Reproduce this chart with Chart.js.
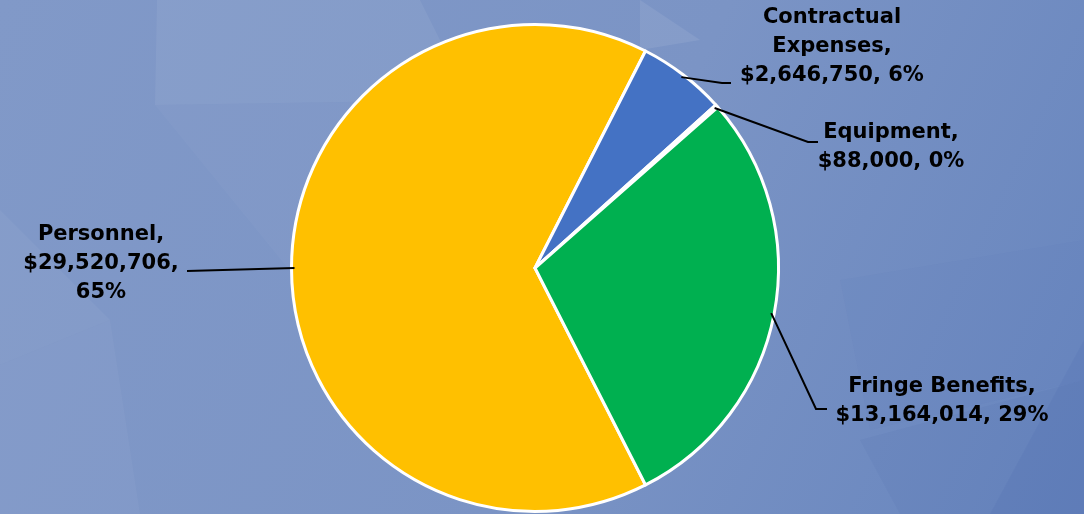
<!DOCTYPE html>
<html>
<head>
<meta charset="utf-8">
<script src="https://cdn.jsdelivr.net/npm/chart.js@4.4.1/dist/chart.umd.min.js"></script>
<style>
    html, body { margin: 0; padding: 0; width: 1084px; height: 514px; overflow: hidden; }
    #wrap { position: relative; width: 1084px; height: 514px; }
</style>
</head>
<body>
<div id="wrap"><canvas id="budgetPie" width="1084" height="514"></canvas></div>
<script>
// --- data ---
var categories = ['Personnel', 'Contractual Expenses', 'Equipment', 'Fringe Benefits'];
var amounts = [29520706, 2646750, 88000, 13164014];
var sliceColors = ['#FFC000', '#4472C4', '#A5A5A5', '#00B050'];

// label text lines per slice (as Excel wrapped them)
var labelLines = [
    ['Personnel,', '$29,520,706,', '65%'],
    ['Contractual', 'Expenses,', '$2,646,750, 6%'],
    ['Equipment,', '$88,000, 0%'],
    ['Fringe Benefits,', '$13,164,014, 29%']
];

// label placement: text centre x, first line y, elbow point of leader
var labelLayout = [
    { x: 101, y: 235, elbow: [187, 271], end: [187, 271] },
    { x: 832, y: 18,  elbow: [722, 83],  end: [731, 83] },
    { x: 891, y: 133, elbow: [808, 142], end: [818, 142] },
    { x: 942, y: 387, elbow: [816, 409], end: [827, 409] }
];

// decorative low-poly background shapes [points..., colour]
var bgPolys = [
    [[157, 0], [420, 0], [470, 100], [155, 105], 'rgba(255,255,255,0.06)'],
    [[155, 105], [470, 100], [330, 320], 'rgba(255,255,255,0.025)'],
    [[0, 210], [110, 320], [0, 365], 'rgba(255,255,255,0.04)'],
    [[0, 365], [110, 320], [140, 514], [0, 514], 'rgba(255,255,255,0.035)'],
    [[640, 0], [700, 40], [640, 50], 'rgba(255,255,255,0.08)'],
    [[840, 280], [1084, 240], [1084, 380], [870, 430], 'rgba(60,90,160,0.035)'],
    [[860, 440], [1084, 380], [1084, 514], [900, 514], 'rgba(50,80,160,0.07)'],
    [[990, 514], [1084, 340], [1084, 514], 'rgba(40,70,150,0.07)']
];

var total = amounts.reduce(function(a, b) { return a + b; }, 0);

var backgroundPlugin = {
    id: 'bgPoly',
    beforeDraw: function(chart) {
        var ctx = chart.ctx, w = chart.width, h = chart.height;
        ctx.save();
        var g = ctx.createLinearGradient(0, 0, w, h);
        g.addColorStop(0, '#8199c8');
        g.addColorStop(0.55, '#7b94c5');
        g.addColorStop(1, '#6785be');
        ctx.fillStyle = g;
        ctx.fillRect(0, 0, w, h);
        bgPolys.forEach(function(p) {
            ctx.beginPath();
            for (var i = 0; i < p.length - 1; i++) {
                if (i === 0) ctx.moveTo(p[i][0], p[i][1]); else ctx.lineTo(p[i][0], p[i][1]);
            }
            ctx.closePath();
            ctx.fillStyle = p[p.length - 1];
            ctx.fill();
        });
        ctx.restore();
    }
};

var labelPlugin = {
    id: 'pieLabels',
    afterDatasetsDraw: function(chart) {
        var ctx = chart.ctx;
        var meta = chart.getDatasetMeta(0);
        ctx.save();
        meta.data.forEach(function(arc, i) {
            var p = arc.getProps(['x', 'y', 'startAngle', 'endAngle', 'outerRadius'], true);
            var mid = (p.startAngle + p.endAngle) / 2;
            var r = p.outerRadius - 3;
            var sx = p.x + Math.cos(mid) * r, sy = p.y + Math.sin(mid) * r;
            var lay = labelLayout[i];
            ctx.strokeStyle = '#000';
            ctx.lineWidth = 2;
            ctx.beginPath();
            ctx.moveTo(sx, sy);
            ctx.lineTo(lay.elbow[0], lay.elbow[1]);
            ctx.lineTo(lay.end[0], lay.end[1]);
            ctx.stroke();

            ctx.fillStyle = '#000';
            ctx.font = 'bold 21px "DejaVu Sans", Verdana, sans-serif';
            ctx.textAlign = 'center';
            ctx.textBaseline = 'middle';
            labelLines[i].forEach(function(t, k) {
                ctx.fillText(t, lay.x, lay.y + k * 28.7);
            });
        });
        ctx.restore();
    }
};

var chart = new Chart(document.getElementById('budgetPie'), {
    type: 'pie',
    data: {
        labels: categories,
        datasets: [{
            data: amounts,
            backgroundColor: sliceColors,
            borderColor: '#ffffff',
            borderWidth: 3,
            borderJoinStyle: 'round'
        }]
    },
    options: {
        responsive: false,
        animation: false,
        rotation: 153,
        layout: { padding: { left: 290, right: 304, top: 22, bottom: 0 } },
        plugins: {
            legend: { display: false },
            tooltip: { enabled: false }
        }
    },
    plugins: [backgroundPlugin, labelPlugin]
});
</script>
</body>
</html>
